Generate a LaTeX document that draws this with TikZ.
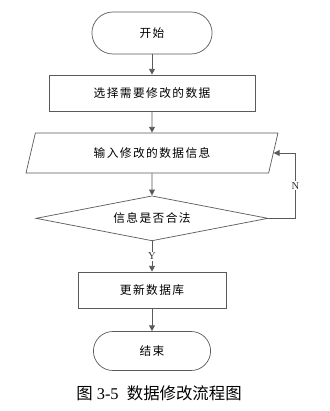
\documentclass[tikz,border=0pt]{standalone}
\usepackage{fontspec}
\setmainfont{Liberation Serif}
\newfontfamily\cjk[LetterSpace=12]{Noto Sans CJK SC}
\newfontfamily\cjkcap{Noto Sans CJK SC}
\usetikzlibrary{arrows.meta, shapes.geometric, shapes.misc}
\definecolor{linecolor}{RGB}{90, 90, 90}
\tikzset{
	termblock/.style={
		rounded rectangle, draw=linecolor, line width=0.6pt,
		font=\cjk\fontsize{10}{12}\selectfont, fill=white
	},
	procblock/.style={
		rectangle, draw=linecolor, line width=0.6pt,
		minimum height=1.08cm, align=center,
		font=\cjk\fontsize{10}{12}\selectfont
	},
	ioblock/.style={
		trapezium, trapezium left angle=63.43, trapezium right angle=116.57,
		trapezium stretches body=true,
		draw=linecolor, line width=0.6pt,
		minimum width=7.56cm, minimum height=1.2cm,
		font=\cjk\fontsize{10}{12}\selectfont
	},
	decblock/.style={
		diamond, aspect=5.15, draw=linecolor, line width=0.6pt,
		minimum width=6.96cm, minimum height=1.35cm, inner sep=0pt,
		font=\cjk\fontsize{10}{12}\selectfont
	},
	arrow/.style={
		-{Triangle[length=5pt,width=5pt]}, line width=0.8pt, color=linecolor
	},
	edgelabel/.style={
		fill=white, inner sep=1pt, text=black!80, font=\fontsize{9}{10}\selectfont
	}
}

\begin{document}
\begin{tikzpicture}

	\useasboundingbox[fill=white] (0,0) rectangle (9.87,-12.33);

	%% ===============================
	%%  nodes (centred at x=4.56)
	%% ===============================
	\node[termblock, minimum width=3.84cm, minimum height=1.26cm] (start) at (4.56,-0.99) {开始};

	\node[procblock, minimum width=6.18cm] (select) at (4.56,-2.79) {选择需要修改的数据};

	\node[ioblock] (input) at (4.56,-4.59) {输入修改的数据信息};

	\node[decblock] (check) at (4.56,-6.55) {信息是否合法};

	\node[procblock, minimum width=4.44cm] (update) at (4.56,-8.70) {更新数据库};

	\node[termblock, minimum width=3.75cm, minimum height=1.17cm] (stop) at (4.56,-10.53) {结束};

	%% caption
	\node[font=\fontsize{14}{16}\selectfont] (caption) at (4.77,-11.79)
		{{\cjkcap 图} 3-5\ \ {\cjkcap 数据修改流程图}};

	%% ===============================
	%%  connectors
	%% ===============================
	\draw[arrow] (start.south) -- (select.north);
	\draw[arrow] (select.south) -- (input.north);
	\draw[arrow] (input.south) -- (check.north);

	% Y : valid -> update
	\draw[arrow] (check.south) -- node[edgelabel] {Y} (update.north);

	% N : back to input
	\draw[arrow] (check.east) -- ++(0.81,0) |- node[edgelabel, pos=0.25] {N} (input.east);

	\draw[arrow] (update.south) -- (stop.north);

\end{tikzpicture}
\end{document}
